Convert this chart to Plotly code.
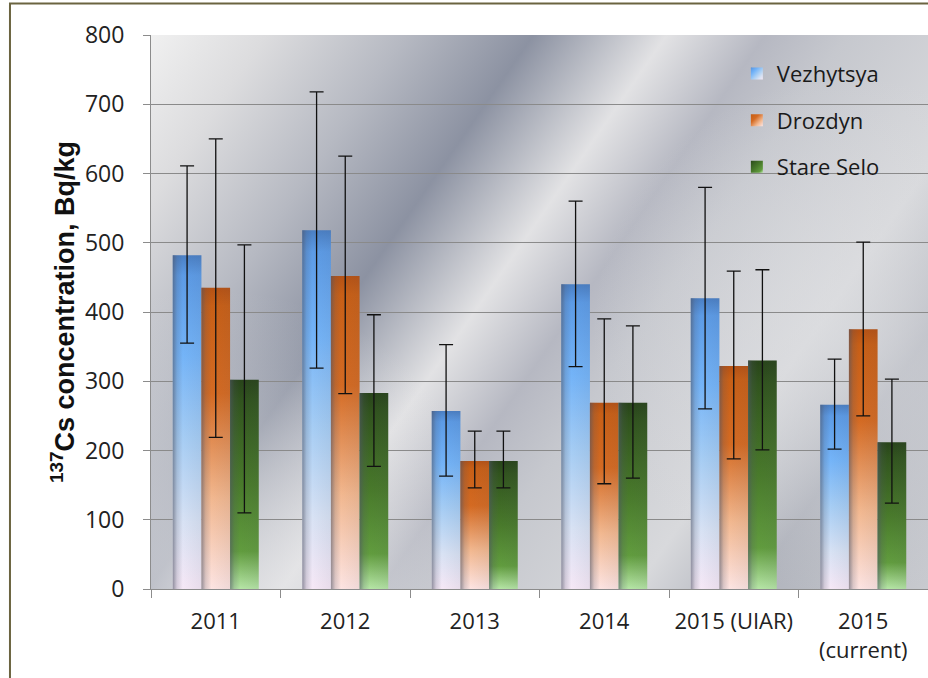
import base64
import plotly.graph_objects as go

# ---------------- data ----------------
categories = ["2011", "2012", "2013", "2014", "2015 (UIAR)", "2015<br>(current)"]
series_names = ["Vezhytsya", "Drozdyn", "Stare Selo"]

vezhytsya = [482, 518, 257, 440, 420, 266]
vezhytsya_hi = [611, 718, 353, 560, 580, 332]
vezhytsya_lo = [355, 319, 163, 321, 260, 202]

drozdyn = [435, 452, 185, 269, 322, 375]
drozdyn_hi = [650, 625, 228, 390, 459, 501]
drozdyn_lo = [219, 282, 146, 152, 188, 250]

stare_selo = [302, 283, 185, 269, 330, 212]
stare_selo_hi = [497, 396, 228, 380, 461, 303]
stare_selo_lo = [110, 177, 146, 160, 201, 124]

y_ticks = [0, 100, 200, 300, 400, 500, 600, 700, 800]

# ---------------- styling ----------------
base_colors = ["#6aa8ee", "#d9742e", "#3f6b26"]
X_TICK_FONT = dict(family="Open Sans, Lato, sans-serif", size=22, color="#222222")
Y_TICK_FONT = dict(family="Open Sans, Lato, sans-serif", size=23, color="#222222")

fig = go.Figure()
series = [
    (vezhytsya, vezhytsya_hi, vezhytsya_lo),
    (drozdyn, drozdyn_hi, drozdyn_lo),
    (stare_selo, stare_selo_hi, stare_selo_lo),
]
for name, color, (vals, hi, lo) in zip(series_names, base_colors, series):
    fig.add_trace(go.Bar(
        name=name,
        x=categories,
        y=vals,
        legendgroup=name,
        marker=dict(color=color, line=dict(width=0)),
        error_y=dict(
            type="data", symmetric=False,
            array=[h - v for h, v in zip(hi, vals)],
            arrayminus=[v - l for v, l in zip(vals, lo)],
            color="#111111", thickness=1.3, width=7,
        ),
    ))

# chrome-like background gradient for the plot area
bg_svg = """<svg xmlns='http://www.w3.org/2000/svg' width='777' height='554' viewBox='0 0 777 554' preserveAspectRatio='none'>
<defs><linearGradient id='bg' gradientUnits='userSpaceOnUse' x1='0' y1='0' x2='781.5' y2='543.2'>
<stop offset='0' stop-color='#f0f0f0'/>
<stop offset='0.1' stop-color='#dcdcde'/>
<stop offset='0.22' stop-color='#b6b9c2'/>
<stop offset='0.33' stop-color='#8c92a2'/>
<stop offset='0.445' stop-color='#e2e2e4'/>
<stop offset='0.53' stop-color='#b6b8c2'/>
<stop offset='0.6' stop-color='#c6c8ce'/>
<stop offset='0.75' stop-color='#d8d9dc'/>
<stop offset='0.85' stop-color='#b0b3bc'/>
<stop offset='1' stop-color='#c8cacf'/>
</linearGradient>
<radialGradient id='bl' gradientUnits='userSpaceOnUse' cx='60' cy='554' r='300'>
<stop offset='0' stop-color='#e6e6e8' stop-opacity='0.7'/>
<stop offset='1' stop-color='#e6e6e8' stop-opacity='0'/>
</radialGradient>
<radialGradient id='br' gradientUnits='userSpaceOnUse' cx='700' cy='300' r='260'>
<stop offset='0' stop-color='#dedfe2' stop-opacity='0.6'/>
<stop offset='1' stop-color='#dedfe2' stop-opacity='0'/>
</radialGradient></defs>
<rect x='0' y='0' width='777' height='554' fill='url(#bg)'/>
<rect x='0' y='0' width='777' height='554' fill='url(#bl)'/>
<rect x='0' y='0' width='777' height='554' fill='url(#br)'/>
</svg>"""
bg_uri = "data:image/svg+xml;base64," + base64.b64encode(bg_svg.encode()).decode()

fig.update_layout(
    width=928, height=678,
    margin=dict(l=151, r=0, t=35, b=89),
    paper_bgcolor="white",
    plot_bgcolor="rgba(0,0,0,0)",
    barmode="group",
    bargap=0.336,
    bargroupgap=0,
    showlegend=True,
    legend=dict(
        x=0.754, y=0.968, xanchor="left", yanchor="top",
        bgcolor="rgba(0,0,0,0)",
        font=dict(family="Open Sans, Lato, sans-serif", size=22, color="#1a1a1a"),
        tracegroupgap=15,
        itemwidth=30,
    ),
    images=[dict(
        source=bg_uri, xref="paper", yref="paper", x=0, y=1,
        sizex=1, sizey=1, sizing="stretch", xanchor="left", yanchor="top",
        layer="below",
    )],
    xaxis=dict(
        showline=True, linecolor="#8c8c8c", linewidth=1,
        ticks="outside", tickson="boundaries", ticklen=8, tickcolor="#8c8c8c",
        tickfont=X_TICK_FONT, showgrid=False,
        ticklabelstandoff=13,
    ),
    yaxis=dict(
        range=[0, 800], tickvals=y_ticks,
        showline=True, linecolor="#8c8c8c", linewidth=1,
        ticks="outside", ticklen=7, tickcolor="#8c8c8c",
        tickfont=Y_TICK_FONT,
        showgrid=True, gridcolor="#8a8a8a", gridwidth=1,
        zeroline=False,
        ticklabelstandoff=14,
    ),
    annotations=[dict(
        text="<b><sup>137</sup>Cs concentration, Bq/kg</b>",
        xref="paper", yref="paper", x=-0.1133, y=0.5,
        xanchor="center", yanchor="middle", textangle=-90, showarrow=False,
        font=dict(family="Liberation Sans, Arial, sans-serif", size=27, color="#111111"),
    )],
    shapes=[dict(
        type="rect", xref="paper", yref="paper",
        x0=-0.1815, x1=1.2, y0=-0.4, y1=1.057,
        line=dict(color="#6b6440", width=2), fillcolor="rgba(0,0,0,0)",
        layer="above",
    )],
)

post_js = r"""
document.body.style.margin = '0';
var gd = document.getElementById('{plot_id}');
var ns = 'http://www.w3.org/2000/svg';
var svg = gd.querySelector('.main-svg');
var defs = svg.querySelector('defs');
if (!defs) { defs = document.createElementNS(ns, 'defs'); svg.insertBefore(defs, svg.firstChild); }
function mk(id, x2, y2, stops) {
  var g = document.createElementNS(ns, 'linearGradient');
  g.setAttribute('id', id); g.setAttribute('x1', '0'); g.setAttribute('y1', '0');
  g.setAttribute('x2', x2); g.setAttribute('y2', y2);
  stops.forEach(function (s) {
    var st = document.createElementNS(ns, 'stop');
    st.setAttribute('offset', s[0]); st.setAttribute('stop-color', s[1]);
    st.setAttribute('stop-opacity', s.length > 2 ? s[2] : 1);
    g.appendChild(st);
  });
  defs.appendChild(g);
}
var grads = [
  [['0', '#4a7fc4'], ['0.06', '#5c9be6'], ['0.3', '#74b4f8'], ['0.55', '#a6cdf4'], ['0.8', '#d8e2f4'], ['1', '#f6e8f6']],
  [['0', '#b65214'], ['0.06', '#c85f16'], ['0.35', '#d46a22'], ['0.7', '#f2b890'], ['1', '#fde4e2']],
  [['0', '#28441a'], ['0.1', '#31541e'], ['0.5', '#497a2b'], ['0.82', '#619c3e'], ['1', '#b6e6a6']]
];
grads.forEach(function (st, i) { mk('barg' + i, '0', '1', st); mk('legg' + i, '1', '1', st); });
mk('hshade', '1', '0', [['0', '#505566', 0.6], ['0.15', '#505566', 0.2], ['0.35', '#505566', 0], ['1', '#505566', 0.08]]);
gd.querySelectorAll('.barlayer .trace').forEach(function (tr, i) {
  tr.querySelectorAll('.point path').forEach(function (p) {
    p.style.fill = 'url(#barg' + i + ')';
    var c = p.cloneNode(true);
    c.style.fill = 'url(#hshade)';
    c.style.fillOpacity = 1;
    p.parentNode.insertBefore(c, p.nextSibling);
  });
});
gd.querySelectorAll('.legend .traces').forEach(function (tr, i) {
  tr.querySelectorAll('.legendpoints path').forEach(function (p) {
    p.style.fill = 'url(#legg' + i + ')';
  });
});
"""

fig.write_html("out.html", post_script=post_js, config={"displayModeBar": False})
